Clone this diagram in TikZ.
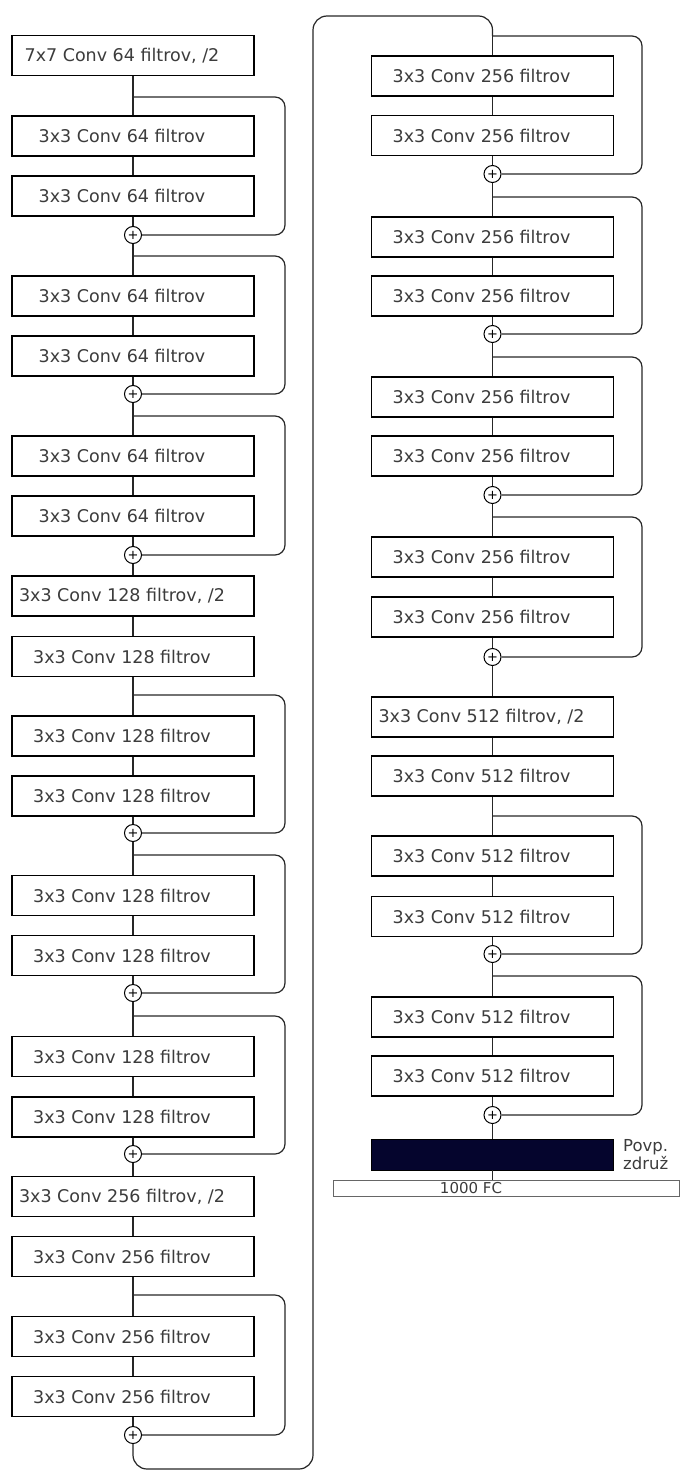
\documentclass[tikz,border=0pt]{standalone}
\usepackage{fontspec}
\setmainfont{DejaVu Sans}
\usepackage{xcolor}
\usepackage{tikz}

\definecolor{poolnavy}{RGB}{5,5,45}
\definecolor{txtgray}{RGB}{60,60,60}

\begin{document}
\begin{tikzpicture}[x=1pt, y=-1pt,
  box/.style={rectangle, draw=black, line width=1.2pt, fill=white,
              minimum width=242pt, minimum height=40pt, inner sep=0pt,
              font=\fontsize{17.5}{20}\selectfont, text=txtgray,
              execute at end node={\hspace*{22pt}}},
  plus/.style={circle, draw=black, line width=1pt, fill=white, minimum size=17pt,
               inner sep=0pt, font=\fontsize{13}{13}\selectfont},
  line/.style={draw=black!85, line width=1.2pt},
  skip/.style={line, rounded corners=10pt}
]
  \useasboundingbox (0,0) rectangle (680,1472);

  % left column
  \node[box] (a1)  at (133,  55.5) {7x7 Conv 64 filtrov, /2};
  \coordinate (j1) at (133,  97);
  \node[box] (a2)  at (133, 136)   {3x3 Conv 64 filtrov};
  \node[box] (a3)  at (133, 196)   {3x3 Conv 64 filtrov};
  \node[plus] (p1) at (133, 235)   {+};
  \coordinate (j2) at (133, 256);
  \node[box] (a4)  at (133, 296)   {3x3 Conv 64 filtrov};
  \node[box] (a5)  at (133, 356)   {3x3 Conv 64 filtrov};
  \node[plus] (p2) at (133, 394)   {+};
  \coordinate (j3) at (133, 416);
  \node[box] (a6)  at (133, 456)   {3x3 Conv 64 filtrov};
  \node[box] (a7)  at (133, 516)   {3x3 Conv 64 filtrov};
  \node[plus] (p3) at (133, 555)   {+};
  \node[box] (a8)  at (133, 596)   {3x3 Conv 128 filtrov, /2};
  \node[box] (a9)  at (133, 656.5) {3x3 Conv 128 filtrov};
  \coordinate (j4) at (133, 695);
  \node[box] (a10) at (133, 736)   {3x3 Conv 128 filtrov};
  \node[box] (a11) at (133, 796)   {3x3 Conv 128 filtrov};
  \node[plus] (p4) at (133, 833)   {+};
  \coordinate (j5) at (133, 855);
  \node[box] (a12) at (133, 895.5) {3x3 Conv 128 filtrov};
  \node[box] (a13) at (133, 955.5) {3x3 Conv 128 filtrov};
  \node[plus] (p5) at (133, 993)   {+};
  \coordinate (j6) at (133,1016);
  \node[box] (a14) at (133,1056.5) {3x3 Conv 128 filtrov};
  \node[box] (a15) at (133,1117)   {3x3 Conv 128 filtrov};
  \node[plus] (p6) at (133,1154)   {+};
  \node[box] (a16) at (133,1196.5) {3x3 Conv 256 filtrov, /2};
  \node[box] (a17) at (133,1256.5) {3x3 Conv 256 filtrov};
  \coordinate (j7) at (133,1295);
  \node[box] (a18) at (133,1336.5) {3x3 Conv 256 filtrov};
  \node[box] (a19) at (133,1396.5) {3x3 Conv 256 filtrov};
  \node[plus] (p7) at (133,1435)   {+};

  % right column
  \coordinate (j8) at (492.5,  36);
  \node[box] (b1)  at (492.5,  76)   {3x3 Conv 256 filtrov};
  \node[box] (b2)  at (492.5, 135.5) {3x3 Conv 256 filtrov};
  \node[plus] (p8) at (492.5, 174)   {+};
  \coordinate (j9) at (492.5, 197);
  \node[box] (b3)  at (492.5, 237)   {3x3 Conv 256 filtrov};
  \node[box] (b4)  at (492.5, 296)   {3x3 Conv 256 filtrov};
  \node[plus] (p9) at (492.5, 334)   {+};
  \coordinate (j10) at (492.5, 357);
  \node[box] (b5)  at (492.5, 397)   {3x3 Conv 256 filtrov};
  \node[box] (b6)  at (492.5, 456)   {3x3 Conv 256 filtrov};
  \node[plus] (p10) at (492.5, 495)  {+};
  \coordinate (j11) at (492.5, 517);
  \node[box] (b7)  at (492.5, 557)   {3x3 Conv 256 filtrov};
  \node[box] (b8)  at (492.5, 617)   {3x3 Conv 256 filtrov};
  \node[plus] (p11) at (492.5, 657)  {+};
  \node[box] (b9)  at (492.5, 717)   {3x3 Conv 512 filtrov, /2};
  \node[box] (b10) at (492.5, 776)   {3x3 Conv 512 filtrov};
  \coordinate (j12) at (492.5, 816);
  \node[box] (b11) at (492.5, 856)   {3x3 Conv 512 filtrov};
  \node[box] (b12) at (492.5, 916.5) {3x3 Conv 512 filtrov};
  \node[plus] (p12) at (492.5, 954)  {+};
  \coordinate (j13) at (492.5, 976);
  \node[box] (b13) at (492.5,1017)   {3x3 Conv 512 filtrov};
  \node[box] (b14) at (492.5,1076)   {3x3 Conv 512 filtrov};
  \node[plus] (p13) at (492.5,1115)  {+};
  \node[rectangle, draw=black, fill=poolnavy, minimum width=242pt, minimum height=31pt,
        inner sep=0pt] (pool) at (492.5,1154.5) {};
  \node[anchor=north west, align=left, inner sep=0pt, text=txtgray,
        font=\fontsize{16.5}{18}\selectfont] (pooltxt) at (623,1139) {Povp.\\združ};
  \node[rectangle, draw=black!60, line width=0.8pt, fill=white, minimum width=346pt,
        minimum height=16pt, inner sep=0pt,
        label={[xshift=-35pt, text=txtgray, font=\fontsize{15}{16}\selectfont]center:1000 FC}]
        (fc) at (506,1188) {};

  % main path
  \draw[line] (a1) -- (a2) -- (a3) -- (p1) -- (a4) -- (a5) -- (p2) -- (a6) -- (a7) -- (p3)
    -- (a8) -- (a9) -- (a10) -- (a11) -- (p4) -- (a12) -- (a13) -- (p5) -- (a14) -- (a15)
    -- (p6) -- (a16) -- (a17) -- (a18) -- (a19) -- (p7);
  \draw[line] (j8) -- (b1) -- (b2) -- (p8) -- (b3) -- (b4) -- (p9) -- (b5) -- (b6) -- (p10)
    -- (b7) -- (b8) -- (p11) -- (b9) -- (b10) -- (b11) -- (b12) -- (p12) -- (b13) -- (b14)
    -- (p13) -- (pool);
  \draw[line] (pool) -- (pool |- fc.north);

  % skip connections
  \draw[skip] (j1) -- ++(152,0) |- (p1);
  \draw[skip] (j2) -- ++(152,0) |- (p2);
  \draw[skip] (j3) -- ++(152,0) |- (p3);
  \draw[skip] (j4) -- ++(152,0) |- (p4);
  \draw[skip] (j5) -- ++(152,0) |- (p5);
  \draw[skip] (j6) -- ++(152,0) |- (p6);
  \draw[skip] (j7) -- ++(152,0) |- (p7);
  \draw[skip] (j8) -- ++(149.5,0) |- (p8);
  \draw[skip] (j9) -- ++(149.5,0) |- (p9);
  \draw[skip] (j10) -- ++(149.5,0) |- (p10);
  \draw[skip] (j11) -- ++(149.5,0) |- (p11);
  \draw[skip] (j12) -- ++(149.5,0) |- (p12);
  \draw[skip] (j13) -- ++(149.5,0) |- (p13);

  % column change
  \coordinate (bot) at (313,1469);
  \coordinate (top) at (313,16);
  \draw[line, rounded corners=14pt] (p7) |- (bot) -- (top) -| (j8);
\end{tikzpicture}
\end{document}
